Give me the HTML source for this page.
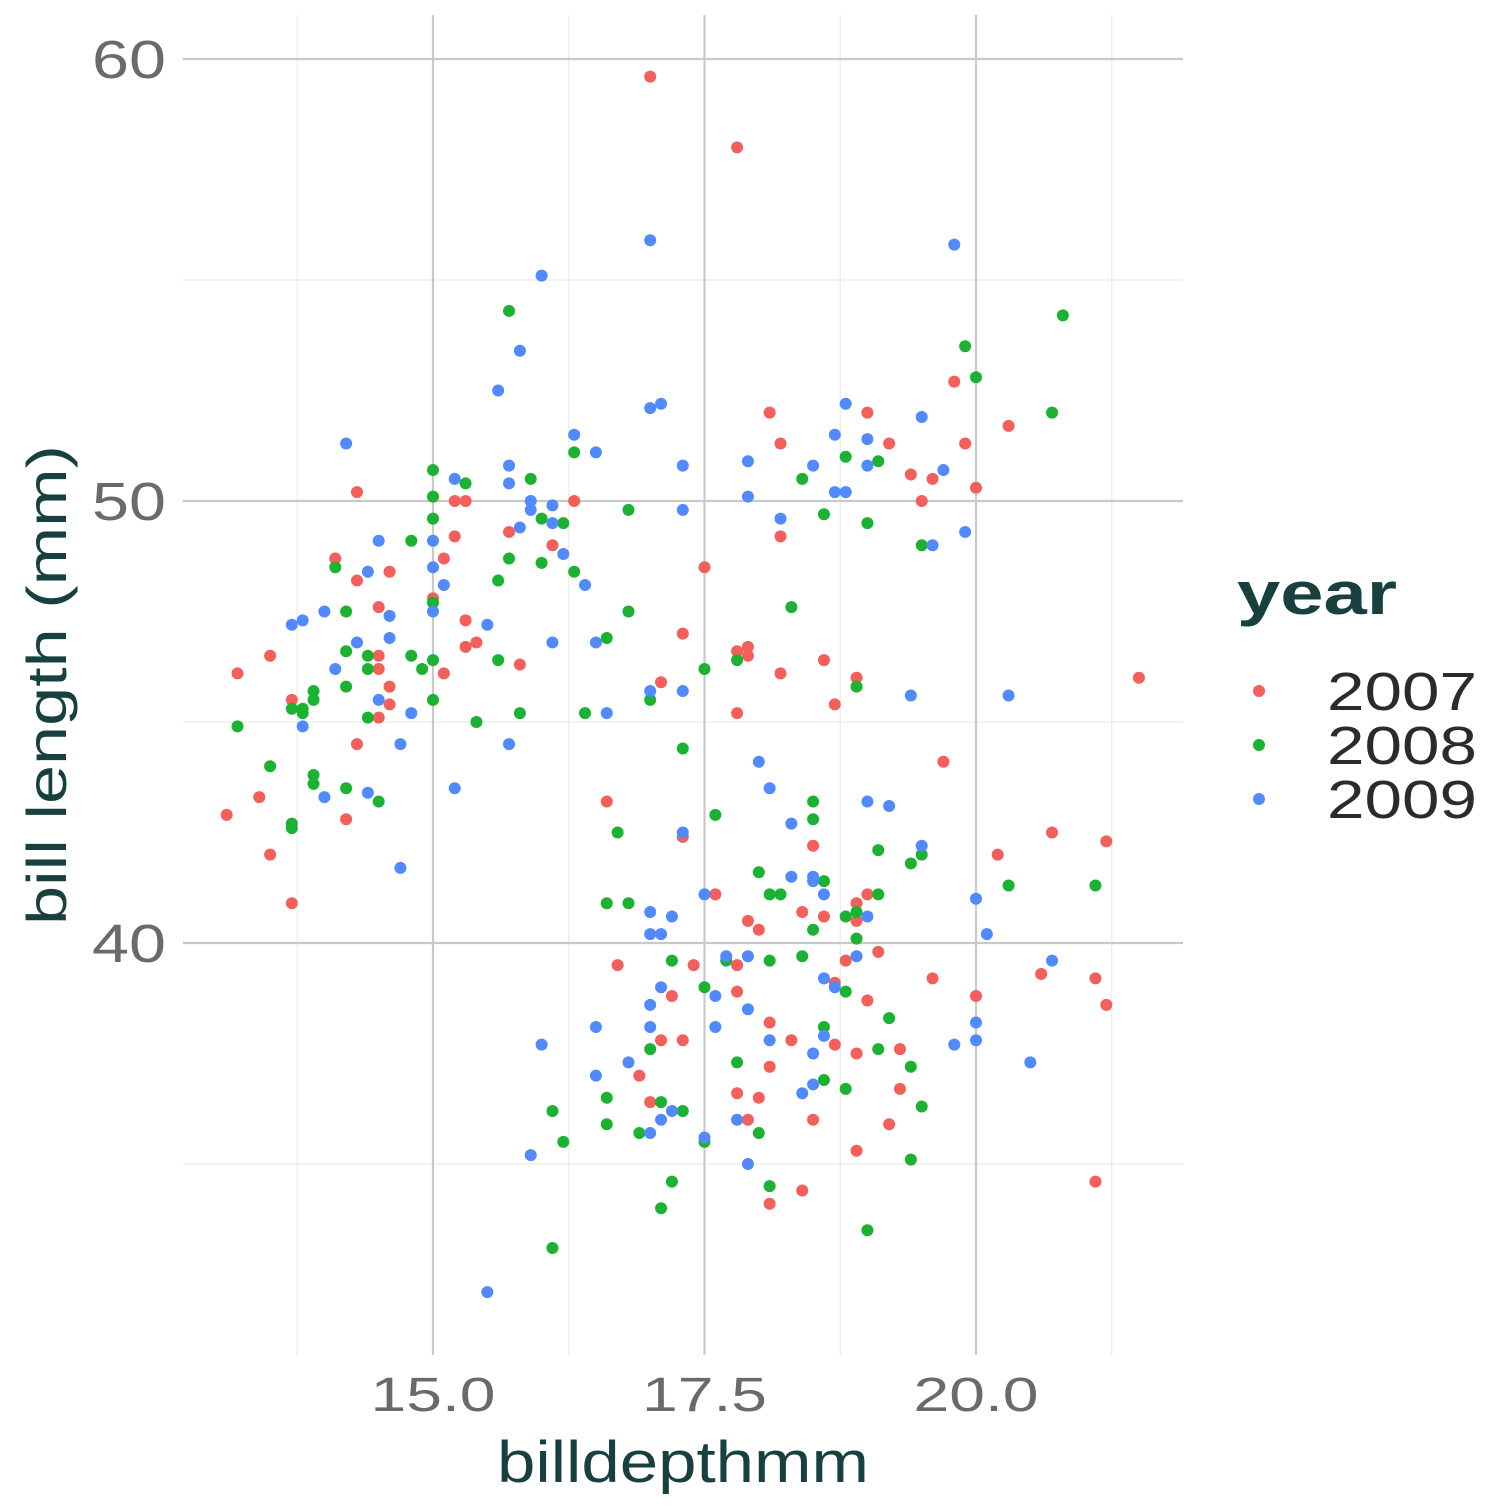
<!DOCTYPE html>
<html><head><meta charset="utf-8"><style>
html,body{margin:0;padding:0;background:#fff;}
svg{display:block;}
text{font-family:"Liberation Sans",sans-serif;}
</style></head><body>
<svg id="chart" width="1512" height="1512" xmlns="http://www.w3.org/2000/svg">
<g id="grid"></g>
<g id="points"></g>
<g id="axes"></g>
<text x="66" y="685" transform="rotate(-90 66 685)" text-anchor="middle" font-size="56" fill="#17403f" textLength="480" lengthAdjust="spacingAndGlyphs">bill length (mm)</text>
<text x="683" y="1482" text-anchor="middle" font-size="58" fill="#17403f" textLength="372" lengthAdjust="spacingAndGlyphs">billdepthmm</text>
<g>
<text x="1237" y="614" font-size="60" font-weight="bold" fill="#17403f" textLength="160" lengthAdjust="spacingAndGlyphs">year</text>
<g id="legend-entries"></g>
</g>
</svg>
<script>
const xTicks=[15.0,17.5,20.0];
const xTickLabels=["15.0","17.5","20.0"];
const xMinor=[13.75,16.25,18.75,21.25];
const yTicks=[40,50,60];
const yTickLabels=["40","50","60"];
const yMinor=[35,45,55];
const years=["2007","2008","2009"];
const colors=["#F45E5B","#1BB232","#5189FF"];
const depth2007=[17.0,17.8,13.1,13.2,13.4,13.5,13.5,13.7,13.7,14.1,14.2,14.3,14.3,14.3,14.5,14.5,14.5,14.5,14.6,14.6,14.6,15.1,15.1,15.2,15.2,15.3,15.3,15.3,15.4,15.0,15.7,15.8,16.1,16.3,16.6,16.7,16.9,17.0,17.1,17.1,17.2,17.3,17.3,17.3,17.4,17.5,17.6,17.8,17.8,17.9,17.9,17.8,17.8,17.8,17.9,17.9,18.0,18.0,18.1,18.1,18.1,18.1,18.2,18.2,18.2,18.3,18.4,18.4,18.5,18.5,18.6,18.6,18.7,18.7,18.7,18.8,18.9,18.9,18.9,18.9,18.9,19.0,19.0,19.0,19.1,19.2,19.2,19.3,19.3,19.4,19.5,19.6,19.7,19.6,19.8,19.9,20.0,20.0,20.2,20.3,20.6,20.7,21.1,21.1,21.2,21.2,21.5];
const length2007=[59.6,58.0,42.9,46.1,43.3,46.5,42.0,45.5,40.9,48.7,42.8,50.2,48.2,44.5,47.6,46.5,46.2,45.1,48.4,45.8,45.4,48.7,46.1,50.0,49.2,50.0,47.3,46.7,46.8,47.8,49.3,46.3,49.0,50.0,43.2,39.5,37.0,36.4,45.9,37.8,38.8,47.0,42.4,37.8,39.5,48.5,41.1,45.2,46.6,46.7,46.5,39.5,38.9,36.6,40.5,36.0,40.3,36.5,52.0,38.2,37.2,34.1,51.3,49.2,46.1,37.8,40.7,34.4,42.2,36.0,46.4,40.6,45.4,39.1,37.7,39.6,46.0,40.9,40.5,37.5,35.3,52.0,41.1,38.7,39.8,51.3,35.9,37.6,36.7,50.6,50.0,50.5,44.1,39.2,52.7,51.3,50.3,38.8,42.0,51.7,39.3,42.5,39.2,34.6,42.3,38.6,46.0];
const depth2008=[13.2,13.5,13.7,13.7,13.7,13.8,13.8,13.9,13.9,13.9,13.9,14.1,14.2,14.2,14.2,14.2,14.4,14.4,14.4,14.5,14.8,14.8,14.9,15.0,15.0,15.0,15.0,15.0,15.0,15.3,15.4,15.6,15.6,15.7,15.7,15.8,15.9,16.0,16.0,16.2,16.3,16.3,16.4,16.6,16.6,16.6,16.6,16.7,16.8,16.8,16.8,16.9,17.0,17.0,17.1,17.1,17.2,17.2,17.3,17.3,17.5,17.5,17.5,17.6,17.7,17.8,17.8,18.0,18.0,18.1,18.1,18.1,18.2,18.3,18.4,18.4,18.5,18.5,18.5,18.6,18.6,18.6,18.6,18.8,18.8,18.8,18.8,18.9,18.9,18.9,19.0,19.0,19.1,19.1,19.1,19.1,19.2,19.4,19.4,19.4,19.5,19.5,19.5,19.9,20.0,20.3,20.7,20.8,21.1,16.1,16.1,16.2];
const length2008=[44.9,44.0,45.3,42.7,42.6,45.3,45.2,45.7,45.5,43.8,43.6,48.5,47.5,46.6,45.8,43.5,46.5,46.2,45.1,43.2,49.1,46.5,46.2,50.7,50.1,49.6,47.7,46.4,45.5,50.4,45.0,48.2,46.4,54.3,48.7,45.2,50.5,49.6,48.6,49.5,51.1,48.4,45.2,46.9,40.9,36.5,35.9,42.5,49.8,47.5,40.9,35.7,45.5,37.6,36.4,34.0,39.6,34.6,44.4,36.2,46.2,39.0,35.5,42.9,39.6,46.4,37.3,41.6,35.7,41.1,39.6,34.5,41.1,47.6,50.5,39.7,43.2,42.8,40.3,49.7,41.4,38.1,36.9,51.0,40.6,38.9,36.7,45.8,40.7,40.1,49.5,33.5,50.9,42.1,41.1,37.6,38.3,41.8,37.2,35.1,49.0,42.0,36.3,53.5,52.8,41.3,52.0,54.2,41.3,36.2,33.1,35.5];
const depth2009=[13.7,13.8,13.8,14.0,14.0,14.1,14.2,14.3,14.4,14.4,14.5,14.5,14.6,14.6,14.7,14.7,14.8,15.0,15.0,15.0,15.1,15.2,15.2,15.5,15.5,15.6,15.7,15.7,15.7,15.8,15.8,15.9,15.9,15.9,16.0,16.0,16.1,16.1,16.1,16.2,16.3,16.4,16.5,16.5,16.5,16.5,16.6,16.8,17.0,17.0,17.0,17.0,17.0,17.0,17.0,17.0,17.1,17.1,17.1,17.1,17.2,17.2,17.3,17.3,17.3,17.3,17.5,17.5,17.6,17.6,17.7,17.8,17.9,17.9,17.9,17.9,17.9,18.0,18.1,18.1,18.2,18.3,18.3,18.4,18.5,18.5,18.5,18.5,18.5,18.6,18.6,18.6,18.7,18.7,18.7,18.8,18.8,18.9,19.0,19.0,19.0,19.0,19.2,19.4,19.5,19.5,19.6,19.7,19.8,19.8,19.9,20.0,20.0,20.0,20.1,20.3,20.5,20.7];
const length2009=[47.2,47.3,44.9,47.5,43.3,46.2,51.3,46.8,48.4,43.4,49.1,45.5,47.4,46.9,44.5,41.7,45.2,49.1,48.5,47.5,48.1,50.5,43.5,47.2,32.1,52.5,50.8,50.4,44.5,53.4,49.4,50.0,49.8,35.2,55.1,37.7,49.9,49.5,46.8,48.8,51.5,48.1,51.1,46.8,38.1,37.0,45.2,37.3,55.9,52.1,45.7,40.7,40.2,38.6,38.1,35.7,52.2,40.2,39.0,36.0,40.6,36.2,50.8,49.8,45.7,42.5,41.1,35.6,38.8,38.1,39.7,36.0,50.9,50.1,39.7,38.5,35.0,44.1,43.5,37.8,49.6,42.7,41.5,36.6,50.8,41.5,41.4,37.5,36.8,41.1,39.2,37.9,51.5,50.2,39.0,52.2,50.2,39.7,51.4,50.8,43.2,40.6,43.1,45.6,51.9,42.2,49.0,50.7,55.8,37.7,49.3,41.0,38.2,37.8,40.2,45.6,37.3,39.6];

const NS="http://www.w3.org/2000/svg";
const L=183,R=1183,T=15,B=1355;
function sx(v){return 433+(v-15)*(976-433)/5;}
function sy(v){return 501-(v-50)*(501-59)/10;}
function mk(tag,attrs,parent){const e=document.createElementNS(NS,tag);for(const k in attrs)e.setAttribute(k,attrs[k]);parent.appendChild(e);return e;}
const grid=document.getElementById('grid');
xMinor.forEach(v=>{const l=mk('line',{x1:sx(v),x2:sx(v),y1:T,y2:B,stroke:'#ebebeb','stroke-width':1.2},grid);

});
yMinor.forEach(v=>{const l=mk('line',{x1:L,x2:R,y1:sy(v),y2:sy(v),stroke:'#ebebeb','stroke-width':1.2},grid);

});
xTicks.forEach(v=>{const l=mk('line',{x1:sx(v),x2:sx(v),y1:T,y2:B,stroke:'#c9c9c9','stroke-width':2.2},grid);

});
yTicks.forEach(v=>{const l=mk('line',{x1:L,x2:R,y1:sy(v),y2:sy(v),stroke:'#c9c9c9','stroke-width':2.2},grid);

});
const axes=document.getElementById('axes');
xTicks.forEach((v,i)=>{const t=mk('text',{x:sx(v),y:1411,'text-anchor':'middle','font-size':48,fill:'#6b6a66',textLength:125,lengthAdjust:'spacingAndGlyphs'},axes);t.textContent=xTickLabels[i];

});
yTicks.forEach((v,i)=>{const t=mk('text',{x:166,y:sy(v)+19,'text-anchor':'end','font-size':54,fill:'#6b6a66',textLength:74,lengthAdjust:'spacingAndGlyphs'},axes);t.textContent=yTickLabels[i];

});
const pts=document.getElementById('points');
const series=[[depth2007,length2007],[depth2008,length2008],[depth2009,length2009]];
series.forEach((s,si)=>{s[0].forEach((d,i)=>{const c=mk('circle',{cx:sx(d),cy:sy(s[1][i]),r:6,fill:colors[si]},pts);

});});
const leg=document.getElementById('legend-entries');
years.forEach((y,i)=>{const cy=691+i*54;
const c=mk('circle',{cx:1259,cy:cy,r:6,fill:colors[i]},leg);


const t=mk('text',{x:1327,y:cy+19,'font-size':54,fill:'#2b2b28',textLength:150,lengthAdjust:'spacingAndGlyphs'},leg);t.textContent=y;

});
</script>
</body></html>
